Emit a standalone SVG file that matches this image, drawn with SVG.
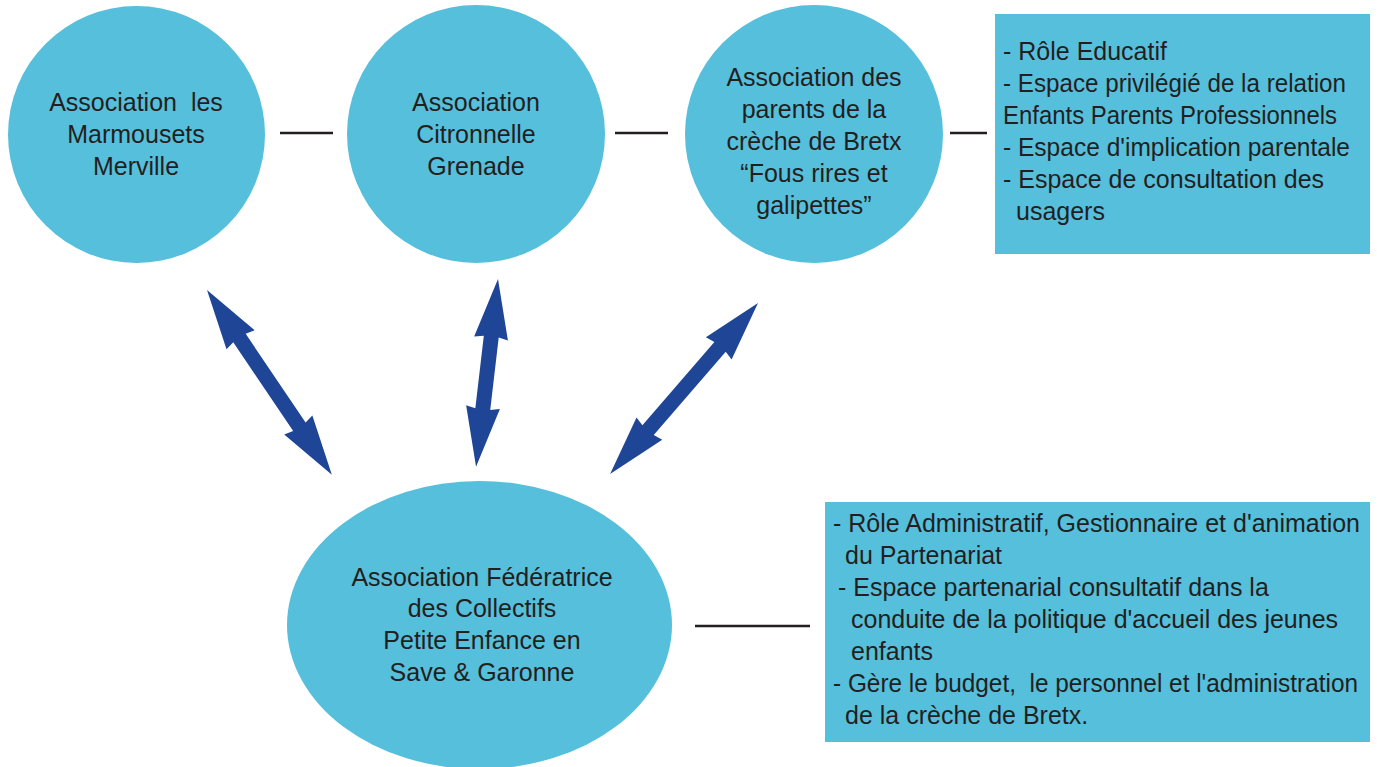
<svg xmlns="http://www.w3.org/2000/svg" width="1381" height="767" viewBox="0 0 1381 767">
<style>
.shape{fill:#56bfdc}
.t{font-family:"Liberation Sans",Arial,sans-serif;font-size:25px;fill:#231f20;white-space:pre}
.c{text-anchor:middle}
.ln{stroke:#231f20;stroke-width:2.5;fill:none}
.ar{fill:#1f4696}
</style>
<rect width="1381" height="767" fill="#ffffff"/>
<g id="connectors">
<line class="ln" x1="280" y1="133" x2="333" y2="133"/>
<line class="ln" x1="615" y1="133" x2="668" y2="133"/>
<line class="ln" x1="950" y1="133" x2="987" y2="133"/>
<line class="ln" x1="695" y1="626" x2="810" y2="626"/>
<polygon class="ar" transform="translate(207 290) rotate(55.95)" points="0,0 60,-17 58,-7.5 165,-7.5 163,-17 223,0 163,17 165,7.5 58,7.5 60,17"/>
<polygon class="ar" transform="translate(498 279) rotate(96.67)" points="0,0 60,-17 58,-7.5 131,-7.5 129,-17 189,0 129,17 131,7.5 58,7.5 60,17"/>
<polygon class="ar" transform="translate(758 303) rotate(130.87)" points="0,0 60,-17 58,-7.5 168,-7.5 166,-17 226,0 166,17 168,7.5 58,7.5 60,17"/>
</g>
<g id="node-marmousets">
<circle class="shape" cx="136.5" cy="134.5" r="128.5"/>
<text class="t c" x="136" y="111">Association  les</text>
<text class="t c" x="136" y="143">Marmousets</text>
<text class="t c" x="136" y="175">Merville</text>
</g>
<g id="node-citronnelle">
<circle class="shape" cx="476" cy="134" r="129"/>
<text class="t c" x="476" y="111">Association</text>
<text class="t c" x="476" y="143">Citronnelle</text>
<text class="t c" x="476" y="175">Grenade</text>
</g>
<g id="node-parents">
<circle class="shape" cx="814" cy="134" r="129"/>
<text class="t c" x="814" y="86">Association des</text>
<text class="t c" x="814" y="118">parents de la</text>
<text class="t c" x="814" y="150">crèche de Bretx</text>
<text class="t c" x="814" y="182">“Fous rires et</text>
<text class="t c" x="814" y="214">galipettes”</text>
</g>
<g id="node-federatrice">
<ellipse class="shape" cx="479.5" cy="625" rx="192.5" ry="144"/>
<text class="t c" x="482" y="586">Association Fédératrice</text>
<text class="t c" x="482" y="617">des Collectifs</text>
<text class="t c" x="482" y="649">Petite Enfance en</text>
<text class="t c" x="482" y="681">Save &amp; Garonne</text>
</g>
<g id="box-educatif">
<rect class="shape" x="995" y="14" width="375" height="240"/>
<text class="t" x="1003" y="60">- Rôle Educatif</text>
<text class="t" x="1003" y="92" textLength="343" lengthAdjust="spacingAndGlyphs">- Espace privilégié de la relation</text>
<text class="t" x="1003" y="124" textLength="334" lengthAdjust="spacingAndGlyphs">Enfants Parents Professionnels</text>
<text class="t" x="1003" y="156" textLength="347" lengthAdjust="spacingAndGlyphs">- Espace d'implication parentale</text>
<text class="t" x="1003" y="188">- Espace de consultation des</text>
<text class="t" x="1016" y="220">usagers</text>
</g>
<g id="box-administratif">
<rect class="shape" x="825" y="502" width="545" height="240"/>
<text class="t" x="833" y="532" textLength="527" lengthAdjust="spacingAndGlyphs">- Rôle Administratif, Gestionnaire et d'animation</text>
<text class="t" x="845" y="564">du Partenariat</text>
<text class="t" x="838" y="596">- Espace partenarial consultatif dans la</text>
<text class="t" x="851" y="628">conduite de la politique d'accueil des jeunes</text>
<text class="t" x="851" y="660">enfants</text>
<text class="t" x="833" y="692" textLength="525" lengthAdjust="spacingAndGlyphs">- Gère le budget,  le personnel et l'administration</text>
<text class="t" x="845" y="724">de la crèche de Bretx.</text>
</g>
</svg>
